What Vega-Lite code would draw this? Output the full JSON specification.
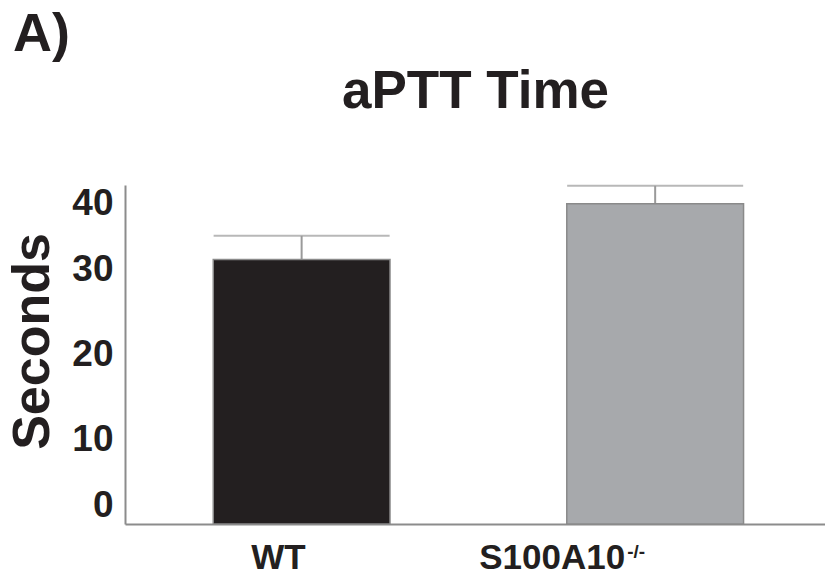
{
  "$schema": "https://vega.github.io/schema/vega-lite/v6.json",
  "autosize": "none",
  "width": 700,
  "height": 339,
  "padding": {"left": 125, "top": 185, "right": 0, "bottom": 60},
  "background": "white",
  "config": {
    "view": {"stroke": null},
    "font": "Liberation Sans",
    "axis": {"grid": false}
  },
  "title": {
    "text": "A)",
    "anchor": "start",
    "frame": "group",
    "font": "Liberation Sans",
    "fontSize": 54,
    "fontWeight": "bold",
    "color": "#231f20",
    "dx": -112,
    "dy": 1
  },
  "data": {
    "values": [
      {"group": "WT", "sup": "", "mean": 31.2, "upper": 34.0},
      {"group": "S100A10", "sup": "-/-", "mean": 37.8, "upper": 39.9}
    ]
  },
  "resolve": {"axis": {"x": "independent"}},
  "layer": [
    {
      "mark": {"type": "rule", "color": "#9a9a9a", "strokeWidth": 2},
      "encoding": {
        "x": {"field": "group", "type": "nominal", "sort": null,
          "scale": {"paddingInner": 0.5, "paddingOuter": 0.24, "align": 0.52},
          "axis": {"orient": "top", "domain": false, "ticks": false, "labels": false,
            "title": "aPTT Time", "titleFont": "Liberation Sans", "titleFontSize": 53,
            "titleFontWeight": "bold", "titleColor": "#231f20", "titleBaseline": "alphabetic",
            "titlePadding": 78}},
        "y": {"field": "mean", "type": "quantitative"},
        "y2": {"field": "upper"}
      }
    },
    {
      "mark": {"type": "tick", "orient": "horizontal", "size": 176, "thickness": 2, "color": "#9a9a9a"},
      "encoding": {
        "x": {"field": "group", "type": "nominal", "sort": null, "axis": null},
        "y": {"field": "upper", "type": "quantitative"}
      }
    },
    {
      "mark": {"type": "bar", "stroke": "#8a8a8a", "strokeWidth": 1.5},
      "encoding": {
        "x": {"field": "group", "type": "nominal", "sort": null,
          "axis": {"orient": "bottom", "title": null, "labelAngle": 0,
            "domainColor": "#8c8c8c", "domainWidth": 2, "ticks": false,
            "labelFont": "Liberation Sans", "labelFontSize": 35, "labelFontWeight": "bold",
            "labelColor": "#231f20", "labelAlign": "right", "labelPadding": 16,
            "labelOffset": {"condition": {"test": "datum.value === 'WT'", "value": 4}, "value": -30}}},
        "y": {"field": "mean", "type": "quantitative",
          "scale": {"domain": [0, 40], "nice": false, "zero": true},
          "axis": {"title": "Seconds", "values": [0, 10, 20, 30, 40],
            "labelFlush": true,
            "domainColor": "#8c8c8c", "domainWidth": 2,
            "ticks": false,
            "labelPadding": 12,
            "labelFont": "Liberation Sans", "labelFontSize": 37, "labelFontWeight": "bold", "labelColor": "#231f20",
            "titleFont": "Liberation Sans", "titleFontSize": 52, "titleFontWeight": "bold", "titleColor": "#231f20",
            "titlePadding": 12, "titleY": 156}},
        "color": {"field": "group", "type": "nominal", "legend": null,
          "scale": {"domain": ["WT", "S100A10"], "range": ["#231f20", "#a7a9ac"]}}
      }
    },
    {
      "mark": {"type": "text", "align": "left", "baseline": "middle", "dx": -28, "dy": 28,
        "font": "Liberation Sans", "fontSize": 19, "fontWeight": "bold", "color": "#231f20"},
      "encoding": {
        "x": {"field": "group", "type": "nominal", "sort": null, "axis": null},
        "y": {"datum": 0, "type": "quantitative"},
        "text": {"field": "sup"}
      }
    }
  ]
}
